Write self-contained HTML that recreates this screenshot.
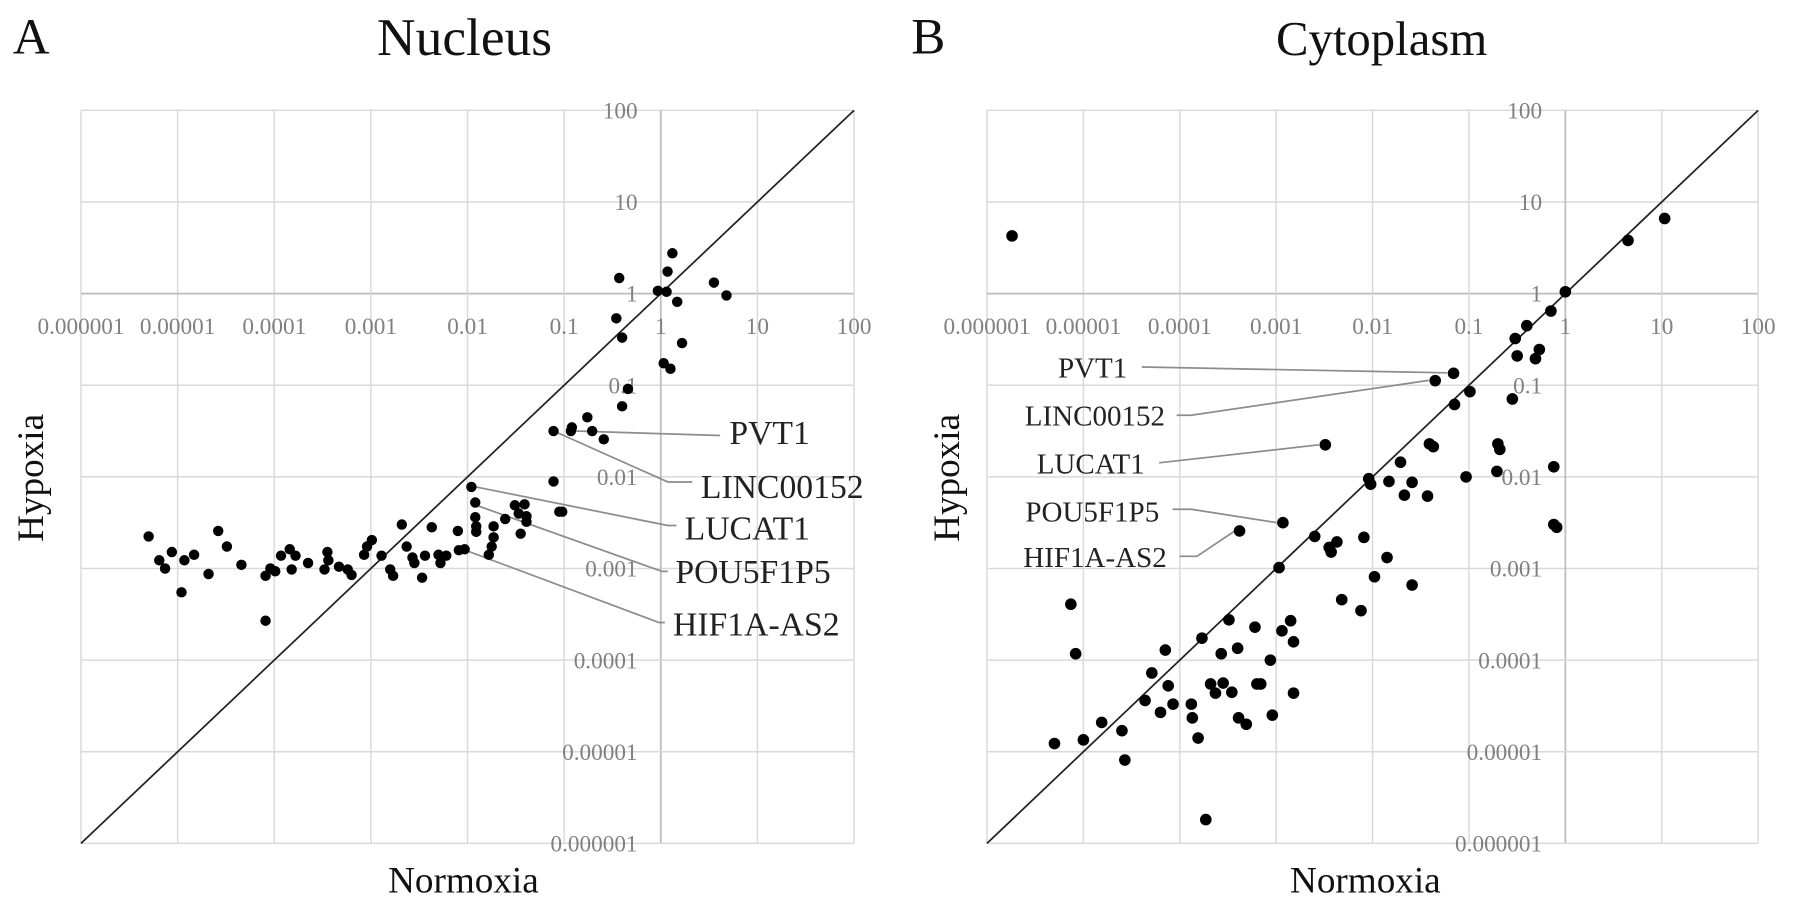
<!DOCTYPE html>
<html><head><meta charset="utf-8"><style>
html,body{margin:0;padding:0;background:#fff;}
svg{display:block;font-family:"Liberation Serif",serif;}
</style></head><body>
<svg id="fig" width="1795" height="907" viewBox="0 0 1795 907" xmlns="http://www.w3.org/2000/svg">
<rect width="1795" height="907" fill="#fff"/>
<g id="pA" transform="scale(0.5807)"></g>
<g id="pB" transform="translate(895,0) scale(0.5807)"></g>
</svg>
<script>
// Panel A (Nucleus) data, log10 values
const nucLogNormoxia = [-5.30,-5.19,-5.13,-5.06,-4.96,-4.93,-4.83,-4.68,-4.58,-4.49,-4.34,-4.09,-4.09,-4.04,-3.99,-3.93,-3.84,-3.82,-3.78,-3.65,-3.48,-3.45,-3.44,-3.33,-3.24,-3.20,-3.07,-3.04,-2.99,-2.89,-2.80,-2.77,-2.68,-2.63,-2.57,-2.55,-2.47,-2.44,-2.37,-2.30,-2.28,-2.22,-2.10,-2.09,-2.03,-1.96,-1.92,-1.92,-1.91,-1.91,-1.78,-1.75,-1.73,-1.73,-1.61,-1.51,-1.47,-1.45,-1.41,-1.39,-1.39,-1.11,-1.11,-1.05,-1.02,-0.93,-0.92,-0.76,-0.71,-0.59,-0.46,-0.43,-0.40,-0.40,-0.34,-0.03,0.03,0.06,0.07,0.10,0.12,0.17,0.22,0.55,0.68];
const nucLogHypoxia = [-2.65,-2.91,-3.00,-2.82,-3.26,-2.91,-2.85,-3.06,-2.59,-2.76,-2.96,-3.08,-3.57,-3.00,-3.03,-2.86,-2.79,-3.01,-2.86,-2.94,-3.01,-2.82,-2.91,-2.98,-3.01,-3.07,-2.85,-2.76,-2.69,-2.86,-3.01,-3.08,-2.52,-2.76,-2.88,-2.94,-3.10,-2.86,-2.55,-2.85,-2.94,-2.86,-2.59,-2.80,-2.79,-2.11,-2.28,-2.44,-2.54,-2.60,-2.85,-2.76,-2.66,-2.54,-2.46,-2.31,-2.40,-2.62,-2.30,-2.43,-2.49,-1.50,-2.05,-2.38,-2.38,-1.50,-1.46,-1.35,-1.50,-1.59,-0.27,0.17,-0.48,-1.23,-1.04,0.03,-0.76,0.02,0.24,-0.82,0.44,-0.09,-0.54,0.12,-0.02];
// Panel B (Cytoplasm) data, log10 values
const cytLogNormoxia = [-5.74,-0.15,0.0,-0.40,-0.52,-0.50,-0.27,-0.31,-0.55,-0.99,-1.15,-1.16,-1.35,-2.49,-2.93,-3.38,0.65,1.03,-1.41,-1.37,-1.71,-0.70,-0.68,-0.71,-1.03,-0.12,-0.12,-0.09,-2.04,-2.02,-1.83,-1.59,-1.67,-1.43,-2.60,-2.45,-2.43,-2.37,-2.09,-1.85,-2.97,-1.98,-1.59,-2.32,-2.12,-5.13,-5.08,-3.49,-3.22,-2.85,-2.94,-2.82,-3.77,-4.15,-3.57,-3.40,-3.06,-4.29,-4.12,-3.68,-3.55,-3.63,-3.46,-3.20,-3.16,-2.82,-4.36,-4.20,-4.07,-3.88,-3.87,-3.39,-3.31,-3.04,-4.81,-4.60,-5.00,-5.30,-3.81,-4.57,-3.73];
const cytLogHypoxia = [0.63,-0.19,0.02,-0.35,-0.49,-0.68,-0.61,-0.71,-1.15,-1.07,-1.21,-0.87,-0.95,-1.65,-2.50,-2.59,0.58,0.82,-1.64,-1.67,-1.84,-1.64,-1.70,-1.94,-2.00,-1.89,-2.52,-2.55,-2.02,-2.08,-2.05,-2.06,-2.20,-2.21,-2.65,-2.77,-2.82,-2.71,-2.66,-2.88,-2.99,-3.09,-3.18,-3.34,-3.46,-3.39,-3.93,-3.56,-3.64,-3.57,-3.68,-3.80,-3.76,-3.89,-3.93,-3.87,-4.00,-4.14,-4.28,-4.26,-4.25,-4.36,-4.35,-4.26,-4.26,-4.36,-4.44,-4.57,-4.48,-4.48,-4.63,-4.63,-4.70,-4.60,-4.68,-4.77,-4.87,-4.91,-4.85,-5.09,-5.74];
const xTickLabels = ["0.000001","0.00001","0.0001","0.001","0.01","0.1","1","10","100"];
const yTickLabels = ["100","10","1","0.1","0.01","0.001","0.0001","0.00001","0.000001"];

const NS="http://www.w3.org/2000/svg";
function mk(parent,tag,attrs,text){const e=document.createElementNS(NS,tag);for(const k in attrs)e.setAttribute(k,attrs[k]);if(text!==undefined)e.textContent=text;parent.appendChild(e);return e;}

function panel(g,cfg){
  const DY=157.8;
  const L=cfg.left,R=cfg.left+8*cfg.dx,T=190,B=T+8*DY;
  const sx=v=>L+(v+6)*cfg.dx, sy=v=>T+(2-v)*DY;
  const t1=mk(g,'text',{x:cfg.letterX,y:92,'font-size':88,fill:'#111'},cfg.letter);
  
  
  const t2=mk(g,'text',{x:cfg.titleX,y:95,'font-size':cfg.titleSize,'text-anchor':'middle',fill:'#111'},cfg.title);
  
  
  for(let i=0;i<=8;i++){
    const x=L+i*cfg.dx;
    const gl=mk(g,'line',{x1:x,y1:T,x2:x,y2:B,stroke:i===6?'#bdbdbd':'#d9d9d9','stroke-width':i===6?3:2.5});
    
    
    const y=T+i*DY;
    const hl=mk(g,'line',{x1:L,y1:y,x2:R,y2:y,stroke:i===2?'#bdbdbd':'#d9d9d9','stroke-width':i===2?3:2.5});
    
    
  }
  xTickLabels.forEach((s,i)=>{
    const t=mk(g,'text',{x:L+i*cfg.dx,y:575,'font-size':40,'text-anchor':'middle',fill:'#808080'},s);
    
    
  });
  yTickLabels.forEach((s,i)=>{
    const t=mk(g,'text',{x:sx(0)-40,y:T+i*DY+14,'font-size':40,'text-anchor':'end',fill:'#808080'},s);
    
    
  });
  const d=mk(g,'line',{x1:sx(-6),y1:sy(-6),x2:sx(2),y2:sy(2),stroke:'#222','stroke-width':3});
  
  
  (cfg.ann||[]).forEach(a=>{
    const p=mk(g,'polyline',{points:a.pts,fill:'none',stroke:'#8c8c8c','stroke-width':3});
    
    
    const t=mk(g,'text',{x:a.tx,y:a.ty,'font-size':cfg.annSize,'text-anchor':a.anchor,fill:'#222'},a.label);
    
    
  });
  cfg.xs.forEach((v,i)=>{
    const c=mk(g,'circle',{cx:sx(v),cy:sy(cfg.ys[i]),r:cfg.r,fill:'#000'});
    
    
  });
  const xt=mk(g,'text',{x:cfg.xTitleX,y:1537,'font-size':64,'text-anchor':'middle',fill:'#111'},'Normoxia');
  
  
  const yt=mk(g,'text',{x:0,y:0,'font-size':64,'text-anchor':'middle',fill:'#111',transform:`translate(${cfg.yTitleX},823) rotate(-90)`},'Hypoxia');
  
  
}
panel(document.getElementById('pA'),{left:139.5,dx:166.4,letter:'A',letterX:22,title:'Nucleus',titleX:800,titleSize:92,yTitleX:74,xTitleX:798,r:9,annSize:58,
  xs:nucLogNormoxia,ys:nucLogHypoxia,
  ann:[
   {pts:'983,742 1240,750',label:'PVT1',tx:1256,ty:765,anchor:'start'},
   {pts:'953,742 1150,830 1192,830',label:'LINC00152',tx:1207,ty:858,anchor:'start'},
   {pts:'812,837 1150,905 1165,905',label:'LUCAT1',tx:1179,ty:929,anchor:'start'},
   {pts:'820,870 1140,984 1150,984',label:'POU5F1P5',tx:1163,ty:1004,anchor:'start'},
   {pts:'800,947 1135,1072 1145,1072',label:'HIF1A-AS2',tx:1159,ty:1094,anchor:'start'}
  ]});
panel(document.getElementById('pB'),{left:158.4,dx:166,letter:'B',letterX:28,title:'Cytoplasm',titleX:838,titleSize:84,yTitleX:110,xTitleX:810,r:10,annSize:50,
  xs:cytLogNormoxia,ys:cytLogHypoxia,
  ann:[
   {pts:'425,632 951,642',label:'PVT1',tx:400,ty:650,anchor:'end'},
   {pts:'485,715 510,715 919,655',label:'LINC00152',tx:465,ty:733,anchor:'end'},
   {pts:'455,797 730,766',label:'LUCAT1',tx:430,ty:815,anchor:'end'},
   {pts:'478,877 510,877 657,900',label:'POU5F1P5',tx:455,ty:898,anchor:'end'},
   {pts:'490,958 520,958 584,915',label:'HIF1A-AS2',tx:468,ty:976,anchor:'end'}
  ]});
</script>
</body></html>
